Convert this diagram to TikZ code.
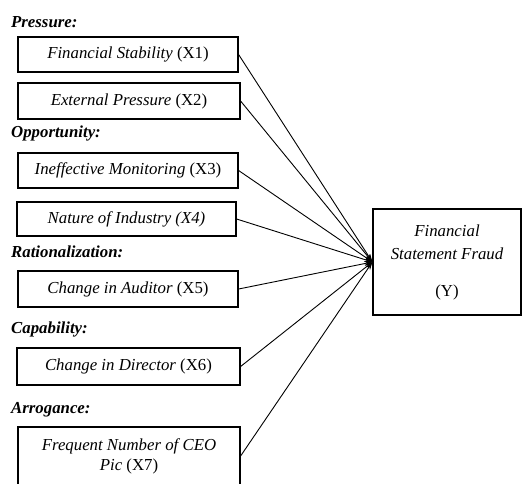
\documentclass[tikz,border=0pt]{standalone}
\usepackage{fontspec}
\setmainfont{Liberation Serif}
\usetikzlibrary{arrows.meta,positioning}

\tikzset{
  factor/.style={draw, line width=1.2pt, align=center, inner sep=0pt,
    font=\itshape\fontsize{16.8}{20}\selectfont},
  aspect/.style={anchor=base west, inner sep=0pt,
    font=\bfseries\itshape\fontsize{16.8}{20}\selectfont},
  link/.style={line width=0.9pt, -{Stealth[length=8pt,width=5pt]}}
}

\begin{document}
\begin{tikzpicture}[x=1pt,y=-1pt]
  \useasboundingbox (0,0) rectangle (524,483);
  % fraud aspects
  \foreach \n/\yy/\lbl in {pres/27/{Pressure:}, opp/137/{Opportunity:}, rat/257/{Rationalization:},
                          cap/333/{Capability:}, arr/413/{Arrogance:}}{
    \node[aspect] (\n) at (11,\yy) {\lbl};
  }
  % independent variables
  \foreach \n/\xx/\yy/\w/\h/\txt in {
      x1/128/54.5/220/35/{Financial Stability \textup{(X1)}},
      x2/129/101/222/36/{External Pressure \textup{(X2)}},
      x3/128/170.5/220/35/{Ineffective Monitoring \textup{(X3)}},
      x4/126.5/219/219/34/{Nature of Industry (X4)},
      x5/128/289/220/36/{Change in Auditor \textup{(X5)}},
      x6/128.5/366.5/223/37/{Change in Director \textup{(X6)}},
      x7/129/456/222/58/{Frequent Number of CEO\\Pic \textup{(X7)}}}{
    \node[factor, minimum width=\w pt, minimum height=\h pt] (\n) at (\xx,\yy) {\txt};
  }
  % dependent variable
  \node[factor, minimum width=148pt, minimum height=106pt] (y) at (447,262)
    {Financial\\[3pt]Statement Fraud\\[17pt]\textup{(Y)}};
  \foreach \n in {x1,x2,x3,x4,x5,x6,x7}{
    \draw[link] (\n.east) -- (y.west);
  }
\end{tikzpicture}
\end{document}
